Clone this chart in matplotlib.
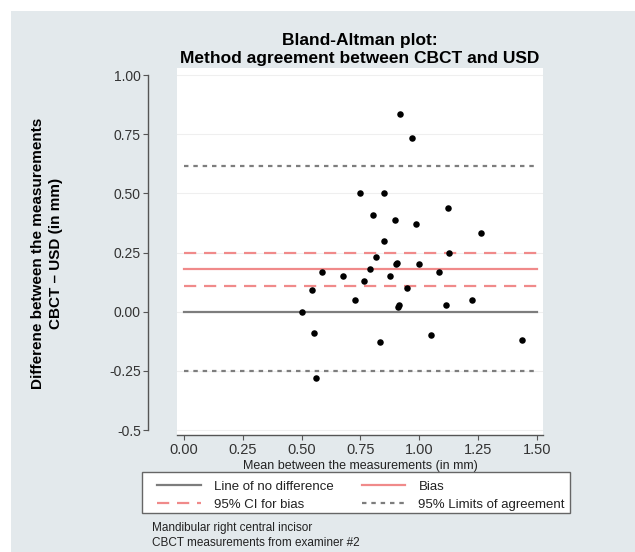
import matplotlib
matplotlib.use('Agg')
import matplotlib.pyplot as plt
from matplotlib.lines import Line2D
from matplotlib.patches import Rectangle

# means and differences (mm)
mean_vals = [0.918, 0.969, 0.748, 0.850, 0.803, 0.895, 0.985, 1.121, 1.262, 0.850,
             1.125, 0.815, 0.904, 0.900, 1.000, 0.585, 0.674, 0.790, 0.875, 1.085,
             0.764, 0.543, 0.949, 0.727, 0.915, 0.911, 1.112, 1.224, 0.501, 0.554,
             0.833, 1.050, 1.438, 0.560]
diff_vals = [0.835, 0.734, 0.500, 0.500, 0.408, 0.389, 0.370, 0.439, 0.331, 0.300,
             0.250, 0.230, 0.208, 0.200, 0.200, 0.169, 0.149, 0.182, 0.149, 0.169,
             0.131, 0.092, 0.100, 0.049, 0.028, 0.021, 0.028, 0.049, 0.000, -0.092,
             -0.130, -0.099, -0.118, -0.280]
bias = 0.18
ci_bias = [0.11, 0.25]
loa = [-0.25, 0.615]
line_x = [0.0, 1.5]
x_ticks = [0.0, 0.25, 0.5, 0.75, 1.0, 1.25, 1.5]
y_ticks = [-0.5, -0.25, 0.0, 0.25, 0.5, 0.75, 1.0]
y_ticklabels = ['-0.5', '-0.25', '0.00', '0.25', '0.50', '0.75', '1.00']

plt.rcParams['font.family'] = ['Liberation Sans', 'DejaVu Sans']
W, H = 635, 552
bg = '#e3e9ec'
red = '#f08a8a'
gray = '#7d7d7d'

fig = plt.figure(figsize=(W / 100, H / 100), dpi=100, facecolor='white')
fig.patches.append(Rectangle((11 / W, 0), 1, (H - 11) / H, transform=fig.transFigure,
                             facecolor=bg, edgecolor='none', zorder=-10))

ax = fig.add_axes([177 / W, (H - 435) / H, 366 / W, 367 / H])
ax.set_facecolor('white')
ax.set_xlim(-0.0297, 1.5257)
ax.set_ylim(-0.521, 1.03)

for t in y_ticks:
    ax.axhline(t, color='#efefef', lw=0.8, zorder=0)

ax.plot(line_x, [0, 0], color=gray, lw=1.6, zorder=2)
ax.plot(line_x, [bias, bias], color=red, lw=1.6, zorder=2)
for v in ci_bias:
    ax.plot(line_x, [v, v], color=red, lw=1.6, dashes=(5.5, 3.5), zorder=2)
for v in loa:
    ax.plot(line_x, [v, v], color=gray, lw=1.6, dashes=(2, 2.2), zorder=2)

ax.scatter(mean_vals, diff_vals, s=22, color='black', zorder=3, linewidths=0)

for s in ['top', 'right']:
    ax.spines[s].set_visible(False)
ax.spines['left'].set_position(('outward', 21))
ax.spines['left'].set_bounds(-0.5, 1.0)
ax.spines['left'].set_color('#555555')
ax.spines['bottom'].set_color('#555555')
ax.spines['left'].set_linewidth(1.0)
ax.spines['bottom'].set_linewidth(1.0)

ax.set_xticks(x_ticks)
ax.set_xticklabels(['%.2f' % v for v in x_ticks])
ax.set_yticks(y_ticks)
ax.set_yticklabels(y_ticklabels)
ax.tick_params(axis='both', direction='out', length=3.5, width=0.8, color='#555555',
               labelcolor='#333333', labelsize=10.5, pad=2.5)
ax.tick_params(axis='y', labelsize=10, pad=1.5)

ax.set_xlabel('Mean between the measurements (in mm)', fontsize=9, color='#222222', labelpad=2)

fig.text(360 / W, 1 - 49.5 / H, 'Bland-Altman plot:\nMethod agreement between CBCT and USD',
         ha='center', va='center', fontsize=12.5, fontweight='bold', linespacing=1.2)

fig.text(47 / W, 1 - 253 / H, 'Differene between the measurements\nCBCT \u2013 USD (in mm)',
         ha='center', va='center', rotation=90, fontsize=11, fontweight='bold',
         multialignment='center', linespacing=1.35)

# legend box drawn separately, legend entries placed inside it
fig.patches.append(Rectangle((142 / W, (H - 513) / H), 428 / W, 41 / H, transform=fig.transFigure,
                             facecolor='white', edgecolor='#666666', lw=1.0, zorder=1))
handles = [Line2D([], [], color=gray, lw=1.6),
           Line2D([], [], color=red, lw=1.6, dashes=(5.5, 3.5)),
           Line2D([], [], color=red, lw=1.6),
           Line2D([], [], color=gray, lw=1.6, dashes=(2, 2.2))]
labels = ['Line of no difference', '95% CI for bias', 'Bias', '95% Limits of agreement']
leg = fig.legend(handles, labels, ncol=2, mode='expand', loc='center',
                 bbox_to_anchor=(157 / W, (H - 516) / H, 408 / W, 41 / H),
                 fontsize=9.5, frameon=False,
                 handlelength=3.3, handletextpad=1.0, borderpad=0, labelspacing=0.45,
                 columnspacing=2.0, borderaxespad=0)
leg.set_zorder(2)
for t in leg.get_texts():
    t.set_color('#222222')

fig.text(152 / W, 1 - 528 / H, 'Mandibular right central incisor', fontsize=8.5,
         va='center', ha='left', color='#222222')
fig.text(152 / W, 1 - 543 / H, 'CBCT measurements from examiner #2', fontsize=8.5,
         va='center', ha='left', color='#222222')

fig.savefig('out.png', dpi=100, facecolor=fig.get_facecolor())
